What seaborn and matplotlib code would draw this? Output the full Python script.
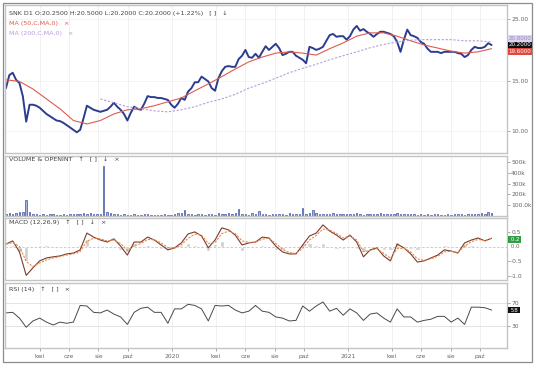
import numpy as np
import pandas as pd
import matplotlib
matplotlib.use('Agg')
import matplotlib.pyplot as plt
import seaborn as sns
from matplotlib.patches import Rectangle
from matplotlib.ticker import FixedLocator, FixedFormatter, NullLocator

# Weekly closes, Mondays from 2019-01-21
close = [14.2, 15.8, 16.1, 15.2, 14.8, 13.3, 10.8, 12.4, 12.4, 12.3,
         12.1, 11.8, 11.5, 11.3, 11.1, 10.9, 10.85, 10.7, 10.5, 10.3,
         10.1, 9.9, 10.1, 11.1, 12.3, 12.1, 11.9, 11.8, 11.7, 11.8,
         11.9, 12.2, 12.6, 12.2, 11.9, 11.5, 10.9, 11.6, 12.2, 12.0,
         11.9, 12.5, 13.3, 13.2, 13.2, 13.1, 13.1, 13.0, 12.9, 12.4,
         12.1, 12.5, 13.1, 12.9, 13.8, 14.2, 14.9, 14.9, 15.6, 15.3,
         15.0, 14.2, 13.9, 15.4, 16.3, 16.9, 17.0, 16.9, 16.9, 18.0,
         18.5, 19.4, 18.3, 18.2, 18.8, 18.2, 19.1, 20.0, 19.4, 19.9,
         20.4, 19.7, 18.6, 18.8, 19.1, 19.1, 18.5, 18.2, 17.9, 17.4,
         19.9, 19.7, 19.4, 19.6, 19.9, 20.9, 21.9, 22.1, 21.6, 21.7,
         21.7, 21.1, 21.7, 22.9, 23.6, 22.7, 23.0, 22.5, 22.1, 21.6,
         22.1, 22.5, 22.5, 22.3, 22.1, 21.7, 20.7, 19.1, 21.1, 22.9,
         21.9, 21.7, 21.4, 20.7, 20.4, 19.6, 19.1, 19.1, 19.1, 18.9,
         19.1, 19.1, 19.1, 19.1, 18.9, 18.8, 18.3, 18.6, 19.4, 19.9,
         19.7, 19.7, 19.9, 20.5, 20.2]

# weekly volume, thousands
volume_k = [15, 25, 20, 30, 35, 40, 145, 35, 20, 15,
            12, 18, 10, 14, 20, 12, 10, 15, 12, 18,
            14, 20, 22, 25, 18, 30, 22, 15, 20, 460,
            40, 25, 15, 20, 12, 18, 10, 8, 15, 10,
            12, 20, 15, 10, 8, 12, 10, 15, 12, 8,
            20, 30, 25, 55, 20, 15, 12, 18, 15, 10,
            22, 18, 12, 25, 15, 20, 30, 20, 25, 65,
            20, 15, 12, 25, 18, 45, 20, 15, 12, 22,
            18, 15, 20, 12, 25, 15, 20, 18, 75, 20,
            25, 55, 30, 20, 15, 22, 18, 25, 20, 15,
            18, 22, 15, 20, 25, 18, 12, 20, 15, 22,
            18, 25, 20, 15, 18, 22, 25, 20, 15, 18,
            20, 15, 12, 18, 10, 15, 12, 20, 15, 12,
            10, 15, 12, 18, 15, 20, 12, 18, 15, 22,
            18, 25, 20, 35, 30]

# moving averages, every 4 weeks
ma50 = [15.2, 15.0, 14.1, 13.0, 12.0, 10.9, 10.6, 10.9, 11.5, 11.9,
        12.0, 12.3, 12.7, 13.1, 13.9, 14.7, 15.6, 16.6, 17.6, 18.3,
        18.9, 19.1, 18.9, 18.6, 19.6, 20.55, 21.7, 22.3, 22.3, 21.7,
        20.9, 20.2, 19.7, 19.2, 18.9, 19.1, 19.6]
ma200 = [13.0, 12.6, 12.2, 12.0, 11.8, 11.7, 11.9, 12.2, 12.65, 13.0,
         13.5, 14.2, 14.75, 15.4, 16.1, 16.7, 17.25, 17.9, 18.5, 19.1,
         19.75, 20.3, 20.7, 21.0, 21.1, 21.1, 21.1, 20.9, 20.9, 20.7]

# MACD(12,26,9) and RSI(14), every 2 weeks
macd = [0.10, 0.21, -0.17, -0.98, -0.72, -0.48, -0.38, -0.34, -0.31, -0.24,
        -0.21, -0.10, 0.48, 0.34, 0.24, 0.17, 0.28, 0.03, -0.28, 0.17,
        0.17, 0.34, 0.24, 0.07, -0.10, -0.03, 0.14, 0.45, 0.52, 0.38,
        -0.03, 0.24, 0.66, 0.59, 0.41, 0.07, 0.14, 0.17, 0.34, 0.31,
        0.03, -0.17, -0.24, -0.24, 0.07, 0.38, 0.48, 0.76, 0.55, 0.41,
        0.24, 0.41, 0.17, -0.34, -0.10, -0.03, -0.31, -0.48, 0.10, -0.03,
        -0.24, -0.52, -0.48, -0.38, -0.28, -0.10, -0.14, -0.21, 0.14, 0.24,
        0.31, 0.21, 0.30]
signal = [0.10, 0.15, 0.02, -0.50, -0.68, -0.55, -0.45, -0.38, -0.33, -0.28,
          -0.24, -0.16, 0.20, 0.30, 0.28, 0.21, 0.24, 0.12, -0.12, 0.04,
          0.12, 0.26, 0.25, 0.14, -0.02, -0.04, 0.07, 0.30, 0.44, 0.41,
          0.12, 0.15, 0.46, 0.55, 0.46, 0.21, 0.16, 0.16, 0.27, 0.30,
          0.12, -0.08, -0.19, -0.22, -0.05, 0.24, 0.40, 0.62, 0.58, 0.47,
          0.31, 0.38, 0.24, -0.16, -0.12, -0.06, -0.22, -0.39, -0.06, -0.04,
          -0.17, -0.41, -0.46, -0.41, -0.32, -0.17, -0.15, -0.19, 0.03, 0.18,
          0.26, 0.22, 0.30]
rsi = [53, 54, 44, 28, 39, 44, 37, 32, 37, 35,
       37, 66, 65, 54, 53, 58, 51, 46, 33, 54,
       61, 63, 54, 54, 35, 60, 60, 68, 66, 60,
       39, 66, 65, 66, 58, 53, 56, 66, 56, 54,
       46, 44, 39, 40, 65, 56, 65, 72, 56, 61,
       49, 60, 53, 40, 51, 53, 44, 37, 60, 46,
       46, 37, 40, 42, 47, 47, 37, 44, 33, 63,
       63, 62, 58]

tick_dates = ['2019-04-01', '2019-06-01', '2019-08-01', '2019-10-01', '2020-01-01',
              '2020-04-01', '2020-06-01', '2020-08-01', '2020-10-01', '2021-01-01',
              '2021-04-01', '2021-06-01', '2021-08-01', '2021-10-01']
tick_labels = ['kwi', 'cze', 'sie', 'paź', '2020', 'kwi', 'cze', 'sie', 'paź', '2021',
               'kwi', 'cze', 'sie', 'paź']

start = pd.Timestamp('2019-01-21')
weekly = pd.DataFrame({'date': pd.date_range(start, periods=len(close), freq='7D'),
                       'close': close, 'volume': np.array(volume_k) * 1000})
ma50_df = pd.DataFrame({'date': pd.date_range(start, periods=len(ma50), freq='28D'), 'ma': ma50})
ma200_df = pd.DataFrame({'date': pd.date_range(start + pd.Timedelta(days=196), periods=len(ma200), freq='28D'),
                         'ma': ma200})
osc = pd.DataFrame({'date': pd.date_range(start, periods=len(macd), freq='14D'),
                    'macd': macd, 'signal': signal, 'rsi': rsi})
osc['hist'] = osc['macd'] - osc['signal']

sns.set_theme(style='white')
plt.rcParams['font.family'] = ['DejaVu Sans']

W, H = 536, 376
fig = plt.figure(figsize=(W / 100, H / 100), dpi=100)
xlim = (pd.Timestamp('2019-01-19'), pd.Timestamp('2021-11-26'))
ticks = pd.to_datetime(tick_dates)


def panel(top, bottom):
    ax = fig.add_axes([5 / W, 1 - bottom / H, 502 / W, (bottom - top) / H])
    ax.set_xlim(*xlim)
    ax.set_xticks(ticks)
    ax.grid(axis='x', color='#efefef', lw=0.6)
    ax.yaxis.tick_right()
    ax.tick_params(axis='y', labelsize=4.3, colors='#666666', length=2, width=0.4, pad=1, direction='out', right=True)
    ax.tick_params(axis='x', bottom=False, labelbottom=False)
    for s in ax.spines.values():
        s.set_color('#c4c4c4')
        s.set_linewidth(1.0)
    ax._px = (top, bottom)
    return ax


def value_box(ax, y_px, text, fc, tc='white'):
    # y_px: centre of the box in picture pixels
    top, bottom = ax._px
    fy = 1 - (y_px - top) / (bottom - top)
    ax.text(1.003, fy, text, transform=ax.transAxes, fontsize=4.0, color=tc, zorder=5,
            ha='left', va='center', bbox=dict(boxstyle='square,pad=0.12', fc=fc, ec='none'))


def clean(ax):
    ax.set_xlabel('')
    ax.set_ylabel('')
    ax.tick_params(axis='x', bottom=False, labelbottom=False)


# price panel
ax1 = panel(5, 153)
sns.lineplot(data=weekly, x='date', y='close', ax=ax1, color='#2c3d8f', lw=1.4)
sns.lineplot(data=ma50_df, x='date', y='ma', ax=ax1, color='#e05a4e', lw=0.8)
sns.lineplot(data=ma200_df, x='date', y='ma', ax=ax1, color='#b79cd8', lw=0.8, linestyle=(0, (2, 1.5)))
ax1.set_yscale('log')
ax1.set_ylim(8.36, 28.0)
# the 20.00 label sits under the price boxes in the original
ax1.yaxis.set_major_locator(FixedLocator([10, 15, 25]))
ax1.yaxis.set_major_formatter(FixedFormatter(['10.00', '15.00', '25.00']))
ax1.yaxis.set_minor_locator(NullLocator())
ax1.grid(axis='y', color='#f2f2f2', lw=0.6)
clean(ax1)
ax1.text(0.008, 0.946, 'SNK D1 O:20.2500 H:20.5000 L:20.2000 C:20.2000 (+1.22%)   [ ]   ↓',
         transform=ax1.transAxes, fontsize=4.6, color='#444444', va='center')
ax1.text(0.008, 0.878, 'MA (50,C,MA,0)   ×', transform=ax1.transAxes, fontsize=4.6,
         color='#e05a4e', va='center')
ax1.text(0.008, 0.81, 'MA (200,C,MA,0)   ×', transform=ax1.transAxes, fontsize=4.6,
         color='#b79cd8', va='center')
value_box(ax1, 38.5, '20.8000', '#ddd3f2', '#9a86c4')
value_box(ax1, 51.5, '19.6000', '#e0483e')
value_box(ax1, 45, '20.2000', '#111111')

# volume panel
ax2 = panel(156, 216)
ax2.bar(weekly['date'], weekly['volume'], width=3, color='#a9b8e2', edgecolor='#3b52a3', lw=0.5)
ax2.set_ylim(0, 555000)
ax2.yaxis.set_major_locator(FixedLocator([100000, 200000, 300000, 400000, 500000]))
ax2.yaxis.set_major_formatter(FixedFormatter(['100.0k', '200k', '300k', '400k', '500k']))
clean(ax2)
ax2.text(0.008, 0.93, 'VOLUME & OPENINT   ↑   [ ]   ↓   ×', transform=ax2.transAxes,
         fontsize=4.6, color='#444444', va='center')

# MACD panel
ax3 = panel(218, 280)
ax3.bar(osc['date'], osc['hist'], width=9, color='#cfcfcf')
ax3.axhline(0, color='#b8c8dc', lw=0.6, ls=(0, (3, 2)))
sns.lineplot(data=osc, x='date', y='macd', ax=ax3, color='#7b3b2c', lw=0.8)
sns.lineplot(data=osc, x='date', y='signal', ax=ax3, color='#e58a4c', lw=0.8, linestyle=(0, (2, 1.2)))
ax3.set_ylim(-1.14, 1.0)
ax3.yaxis.set_major_locator(FixedLocator([-1.0, -0.5, 0.5]))
ax3.yaxis.set_major_formatter(FixedFormatter(['-1.0', '-0.5', '0.5']))
clean(ax3)
ax3.text(0.008, 0.935, 'MACD (12,26,9)   ↑   [ ]   ↓   ×', transform=ax3.transAxes,
         fontsize=4.6, color='#444444', va='center')
value_box(ax3, 239.5, ' 0.2 ', '#2f9e44')
value_box(ax3, 246.5, ' 0.0 ', '#ffffff', '#666666')

# RSI panel
ax4 = panel(283, 348)
ax4.axhline(70, color='#dedede', lw=0.6)
ax4.axhline(30, color='#dedede', lw=0.6)
sns.lineplot(data=osc, x='date', y='rsi', ax=ax4, color='#4a4a4a', lw=0.7)
ax4.set_ylim(-8, 105)
ax4.yaxis.set_major_locator(FixedLocator([30, 70]))
ax4.yaxis.set_major_formatter(FixedFormatter(['30', '70']))
ax4.set_xlabel('')
ax4.set_ylabel('')
ax4.set_xticks(ticks)
ax4.set_xticklabels(tick_labels)
ax4.tick_params(axis='x', bottom=True, labelbottom=True, labelsize=4.3, colors='#666666',
                length=2, width=0.4, pad=2)
ax4.text(0.008, 0.91, 'RSI (14)   ↑   [ ]   ×', transform=ax4.transAxes,
         fontsize=4.6, color='#444444', va='center')
value_box(ax4, 310, ' 58 ', '#111111')

# outer frame
fig.add_artist(Rectangle((3 / W, 1 - 362 / H), 529 / W, 359 / H, transform=fig.transFigure,
                         fill=False, ec='#8c8c8c', lw=0.9))

fig.savefig('out.png', dpi=100)
